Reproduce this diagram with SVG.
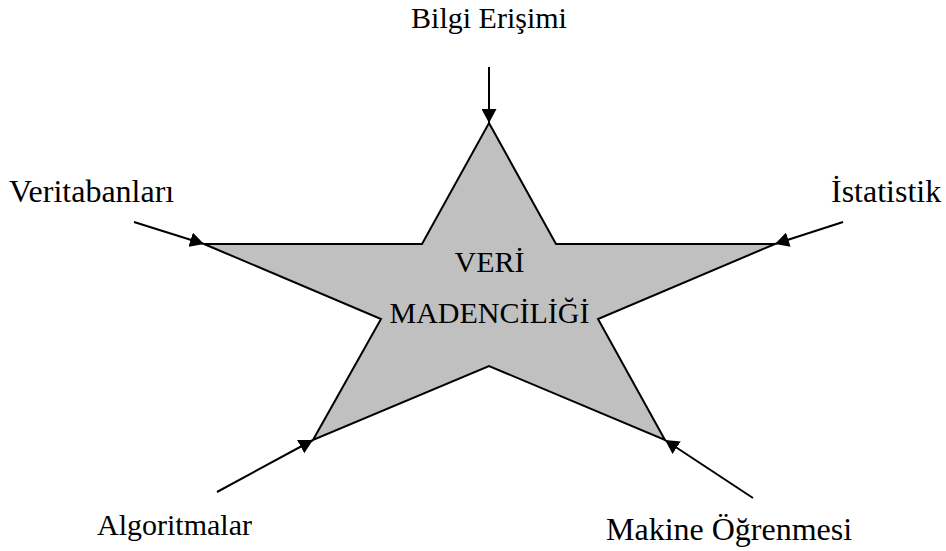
<svg xmlns="http://www.w3.org/2000/svg" width="946" height="551" viewBox="0 0 946 551">
  <style>
    .lbl { font-family: "Liberation Serif", "Times New Roman", serif; font-size: 30px; fill: #000; }
    .big { font-size: 32px; }
    .mid { text-anchor: middle; }
    .star { fill: #c0c0c0; stroke: #000; stroke-width: 2; stroke-linejoin: miter; }
    .conn { stroke: #000; stroke-width: 2; fill: none; marker-end: url(#arrow); }
  </style>
  <defs>
    <marker id="arrow" viewBox="0 0 14 15" refX="14" refY="7.5" markerWidth="14" markerHeight="15" markerUnits="userSpaceOnUse" orient="auto">
      <path d="M0,0 L14,7.5 L0,15 Z" fill="#000"/>
    </marker>
  </defs>
  <rect width="946" height="551" fill="#fff"/>

  <g id="center">
    <polygon class="star" points="489,123 556,244 775,244 598,319 665,440 489,366 313,440 381,319 204,244 422,244"/>
    <text class="lbl mid" x="489.5" y="272">VERİ</text>
    <text class="lbl mid" x="489.5" y="323">MADENCİLİĞİ</text>
  </g>

  <g id="connectors">
    <line class="conn" x1="489" y1="67" x2="489" y2="123"/>
    <line class="conn" x1="134" y1="222" x2="204" y2="244"/>
    <line class="conn" x1="843" y1="222" x2="775" y2="244"/>
    <line class="conn" x1="217" y1="492" x2="313" y2="440"/>
    <line class="conn" x1="753" y1="498" x2="665" y2="440"/>
  </g>

  <g id="node-bilgi"><text class="lbl mid" x="489" y="28">Bilgi Erişimi</text></g>
  <g id="node-veritabanlari"><text class="lbl big" x="9" y="202">Veritabanları</text></g>
  <g id="node-istatistik"><text class="lbl big" x="831" y="202">İstatistik</text></g>
  <g id="node-algoritmalar"><text class="lbl" x="97" y="535">Algoritmalar</text></g>
  <g id="node-makine"><text class="lbl big" x="606" y="540">Makine Öğrenmesi</text></g>
</svg>
